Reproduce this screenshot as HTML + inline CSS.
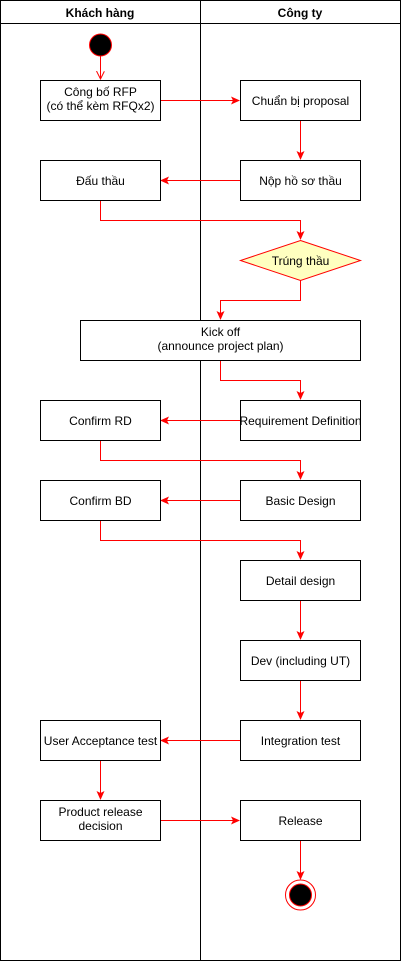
<!DOCTYPE html>
<html><head><meta charset="utf-8"><style>body{margin:0;background:#fff}svg{display:block}text{font-family:"Liberation Sans","DejaVu Sans",sans-serif;font-size:12px;fill:#000}</style></head><body>
<svg width="401" height="961" viewBox="0 0 401 961" xmlns="http://www.w3.org/2000/svg">
<defs><marker id="a" markerWidth="10" markerHeight="10" refX="8" refY="4" orient="auto" markerUnits="userSpaceOnUse"><path d="M0,0 L9,4 L0,8 L2,4 Z" fill="#f00"/></marker>
<marker id="o" markerWidth="10" markerHeight="10" refX="8" refY="4" orient="auto" markerUnits="userSpaceOnUse"><path d="M0,0 L8,4 L0,8" fill="none" stroke="#f00"/></marker></defs>
<rect x="0.5" y="0.5" width="400" height="960" fill="#fff" stroke="#000"/>
<line x1="0" y1="23.5" x2="401" y2="23.5" stroke="#000"/>
<line x1="200.5" y1="0" x2="200.5" y2="961" stroke="#000"/>
<text x="100" y="17" text-anchor="middle" font-weight="bold">Khách hàng</text>
<text x="300" y="17" text-anchor="middle" font-weight="bold">Công ty</text>
<g fill="none" stroke="#f00" stroke-width="1">
<path d="M100.5,56 V79" marker-end="url(#o)"/>
<path d="M160,100.5 H239" marker-end="url(#a)"/>
<path d="M300.5,120 V159" marker-end="url(#a)"/>
<path d="M240,180.5 H161" marker-end="url(#a)"/>
<path d="M100.5,200 V220.5 H300.5 V239" marker-end="url(#a)"/>
<path d="M300.5,280 V300.5 H220.5 V319" marker-end="url(#a)"/>
<path d="M220.5,360 V380.5 H300.5 V399" marker-end="url(#a)"/>
<path d="M240,420.5 H161" marker-end="url(#a)"/>
<path d="M100.5,440 V460.5 H300.5 V479" marker-end="url(#a)"/>
<path d="M240,500.5 H161" marker-end="url(#a)"/>
<path d="M100.5,520 V540.5 H300.5 V559" marker-end="url(#a)"/>
<path d="M300.5,600 V639" marker-end="url(#a)"/>
<path d="M300.5,680 V719" marker-end="url(#a)"/>
<path d="M240,740.5 H161" marker-end="url(#a)"/>
<path d="M100.5,760 V799" marker-end="url(#a)"/>
<path d="M160,820.5 H239" marker-end="url(#a)"/>
<path d="M300.5,840 V879" marker-end="url(#a)"/>
</g>
<circle cx="100.5" cy="45" r="11" fill="#000" stroke="#f00"/>
<circle cx="300.5" cy="895" r="15" fill="#fff" stroke="#f00"/>
<circle cx="300.5" cy="895" r="11" fill="#000" stroke="#f00"/>
<g fill="#fff" stroke="#000">
<rect x="40.5" y="80.5" width="120" height="40"/>
<rect x="240.5" y="80.5" width="120" height="40"/>
<rect x="240.5" y="160.5" width="120" height="40"/>
<rect x="40.5" y="160.5" width="120" height="40"/>
<rect x="80.5" y="320.5" width="280" height="40"/>
<rect x="240.5" y="400.5" width="120" height="40"/>
<rect x="40.5" y="400.5" width="120" height="40"/>
<rect x="40.5" y="480.5" width="120" height="40"/>
<rect x="240.5" y="480.5" width="120" height="40"/>
<rect x="240.5" y="560.5" width="120" height="40"/>
<rect x="240.5" y="640.5" width="120" height="40"/>
<rect x="240.5" y="720.5" width="120" height="40"/>
<rect x="40.5" y="720.5" width="120" height="40"/>
<rect x="40.5" y="800.5" width="120" height="40"/>
<rect x="240.5" y="800.5" width="120" height="40"/>
</g>
<path d="M300.5,240.5 L360.5,260.5 L300.5,280.5 L240.5,260.5 Z" fill="#ffffc0" stroke="#f00"/>
<g text-anchor="middle">
<text x="100.5" y="96">Công bố RFP</text><text x="100.5" y="110">(có thể kèm RFQx2)</text>
<text x="300.5" y="105">Chuẩn bị proposal</text>
<text x="300.5" y="185">Nộp hồ sơ thầu</text>
<text x="100.5" y="185">Đấu thầu</text>
<text x="300.5" y="265">Trúng thầu</text>
<text x="220.5" y="336">Kick off</text><text x="220.5" y="350">(announce project plan)</text>
<text x="300.5" y="425">Requirement Definition</text>
<text x="100.5" y="425">Confirm RD</text>
<text x="100.5" y="505">Confirm BD</text>
<text x="300.5" y="505">Basic Design</text>
<text x="300.5" y="585">Detail design</text>
<text x="300.5" y="665">Dev (including UT)</text>
<text x="300.5" y="745">Integration test</text>
<text x="100.5" y="745">User Acceptance test</text>
<text x="100.5" y="816">Product release</text><text x="100.5" y="830">decision</text>
<text x="300.5" y="825">Release</text>
</g>
</svg>
</body></html>
